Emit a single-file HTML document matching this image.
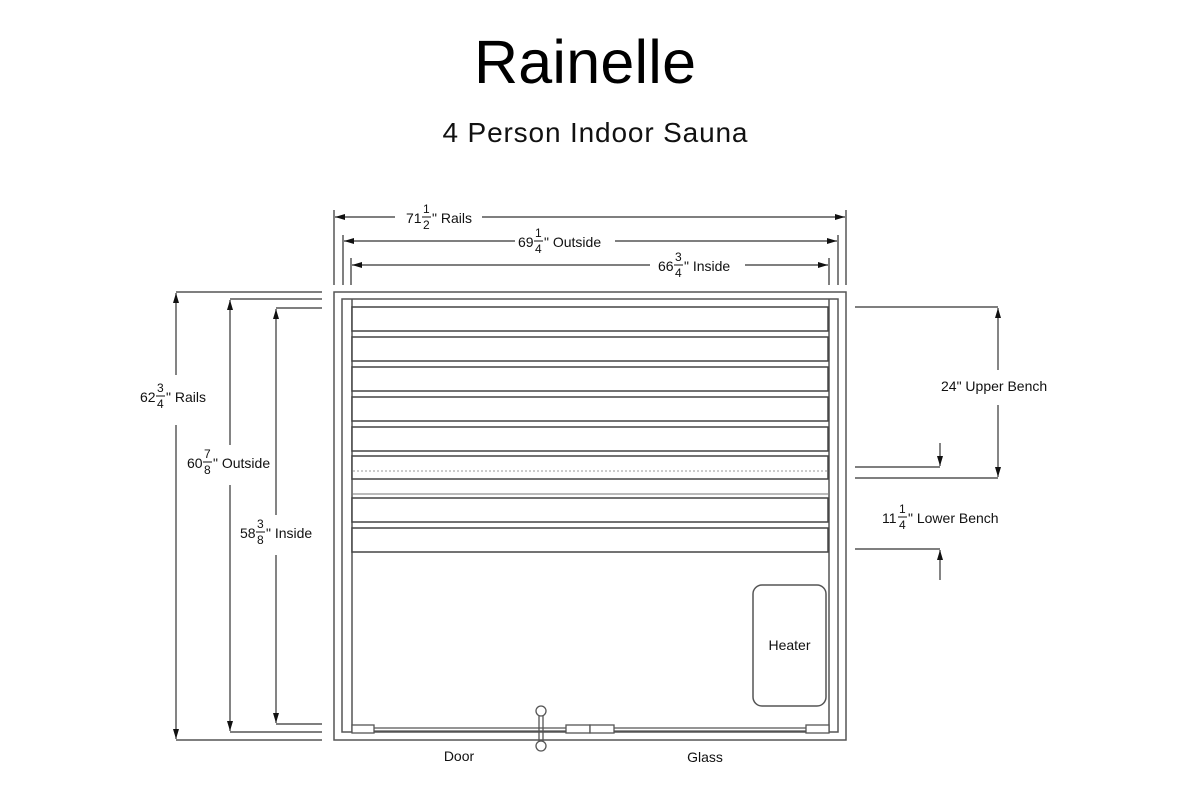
<!DOCTYPE html>
<html><head><meta charset="utf-8"><style>html,body{margin:0;padding:0;background:#fff}svg{display:block}</style></head>
<body>
<svg width="1200" height="800" viewBox="0 0 1200 800" xmlns="http://www.w3.org/2000/svg" font-family="Liberation Sans, Arial, sans-serif">
<defs>
<marker id="a" viewBox="0 0 10 6" refX="10" refY="3" markerWidth="10" markerHeight="6" orient="auto-start-reverse" markerUnits="userSpaceOnUse"><path d="M0,0 L10,3 L0,6z" fill="#111"/></marker>
</defs>
<rect width="1200" height="800" fill="#fff"/>
<text x="585" y="83" font-size="61" text-anchor="middle" textLength="222" fill="#000">Rainelle</text>
<text x="595" y="142" font-size="28" text-anchor="middle" textLength="305" fill="#111">4 Person Indoor Sauna</text>

<g stroke="#555" stroke-width="1.5" fill="none">
<!-- top extension lines -->
<line x1="334" y1="210" x2="334" y2="285"/><line x1="846" y1="210" x2="846" y2="285"/>
<line x1="343" y1="235" x2="343" y2="285"/><line x1="838" y1="235" x2="838" y2="285"/>
<line x1="351" y1="258" x2="351" y2="285"/><line x1="829" y1="258" x2="829" y2="285"/>
<!-- left extension -->
<line x1="176" y1="292" x2="322" y2="292"/><line x1="176" y1="740" x2="322" y2="740"/>
<line x1="230" y1="299" x2="322" y2="299"/><line x1="230" y1="732" x2="322" y2="732"/>
<line x1="276" y1="308" x2="322" y2="308"/><line x1="276" y1="724" x2="322" y2="724"/>
<!-- right extension -->
<line x1="855" y1="307" x2="998" y2="307"/><line x1="855" y1="467" x2="940" y2="467"/>
<line x1="855" y1="478" x2="998" y2="478"/><line x1="855" y1="549" x2="940" y2="549"/>
</g>
<g stroke="#333" stroke-width="1.2" fill="none">
<!-- top dims -->
<line x1="395" y1="217" x2="335" y2="217" marker-end="url(#a)"/>
<line x1="482" y1="217" x2="845" y2="217" marker-end="url(#a)"/>
<line x1="515" y1="241" x2="344" y2="241" marker-end="url(#a)"/>
<line x1="615" y1="241" x2="837" y2="241" marker-end="url(#a)"/>
<line x1="650" y1="265" x2="352" y2="265" marker-end="url(#a)"/>
<line x1="745" y1="265" x2="828" y2="265" marker-end="url(#a)"/>
<!-- left dims -->
<line x1="176" y1="375" x2="176" y2="293" marker-end="url(#a)"/>
<line x1="176" y1="425" x2="176" y2="739" marker-end="url(#a)"/>
<line x1="230" y1="445" x2="230" y2="300" marker-end="url(#a)"/>
<line x1="230" y1="485" x2="230" y2="731" marker-end="url(#a)"/>
<line x1="276" y1="515" x2="276" y2="309" marker-end="url(#a)"/>
<line x1="276" y1="555" x2="276" y2="723" marker-end="url(#a)"/>
<!-- right dims -->
<line x1="998" y1="370" x2="998" y2="308" marker-end="url(#a)"/>
<line x1="998" y1="405" x2="998" y2="477" marker-end="url(#a)"/>
<line x1="940" y1="443" x2="940" y2="466" marker-end="url(#a)"/>
<line x1="940" y1="580" x2="940" y2="550" marker-end="url(#a)"/>
</g>

<!-- sauna body -->
<g stroke="#555" stroke-width="1.5" fill="none">
<rect x="334" y="292" width="512" height="448"/>
<rect x="342" y="299" width="496" height="433"/>
<line x1="352" y1="299" x2="352" y2="732"/>
<line x1="829" y1="299" x2="829" y2="732"/>
</g>
<g stroke="#444" stroke-width="1.5" fill="#fff">
<rect x="352" y="307" width="476" height="24"/>
<rect x="352" y="337" width="476" height="24"/>
<rect x="352" y="367" width="476" height="24"/>
<rect x="352" y="397" width="476" height="24"/>
<rect x="352" y="427" width="476" height="24"/>
<rect x="352" y="456" width="476" height="23"/>
<rect x="352" y="498" width="476" height="24"/>
<rect x="352" y="528" width="476" height="24"/>
</g>
<line x1="353" y1="471" x2="827" y2="471" stroke="#999" stroke-width="1" stroke-dasharray="2,2"/>
<line x1="352" y1="494" x2="828" y2="494" stroke="#777" stroke-width="1"/>
<rect x="753" y="585" width="73" height="121" rx="9" fill="none" stroke="#555" stroke-width="1.5"/>
<text x="789.5" y="650" font-size="14" text-anchor="middle" fill="#111">Heater</text>

<!-- door / glass -->
<g stroke="#555" stroke-width="1.3" fill="#fff">
<line x1="374" y1="728" x2="566" y2="728"/><line x1="374" y1="731" x2="566" y2="731"/>
<line x1="614" y1="728" x2="806" y2="728"/><line x1="614" y1="731" x2="806" y2="731"/>
<rect x="352" y="725" width="22" height="8"/>
<rect x="566" y="725" width="24" height="8"/>
<rect x="590" y="725" width="24" height="8"/>
<rect x="806" y="725" width="23" height="8"/>
<line x1="539" y1="716" x2="539" y2="741"/><line x1="543" y1="716" x2="543" y2="741"/>
<circle cx="541" cy="711" r="5"/>
<circle cx="541" cy="746" r="5"/>
</g>
<text x="459" y="761" font-size="14" text-anchor="middle" fill="#111">Door</text>
<text x="705" y="762" font-size="14" text-anchor="middle" fill="#111">Glass</text>

<!-- labels -->
<g font-size="14" fill="#111">
<text x="406" y="223">71</text><text x="423" y="213" font-size="12">1</text><line x1="422" y1="217" x2="431" y2="217" stroke="#111" stroke-width="1"/><text x="423" y="229" font-size="12">2</text><text x="432" y="223">" Rails</text>
<text x="518" y="247">69</text><text x="535" y="237" font-size="12">1</text><line x1="534" y1="241" x2="543" y2="241" stroke="#111" stroke-width="1"/><text x="535" y="253" font-size="12">4</text><text x="544" y="247">" Outside</text>
<text x="658" y="271">66</text><text x="675" y="261" font-size="12">3</text><line x1="674" y1="265" x2="683" y2="265" stroke="#111" stroke-width="1"/><text x="675" y="277" font-size="12">4</text><text x="684" y="271">" Inside</text>
<text x="140" y="402">62</text><text x="157" y="392" font-size="12">3</text><line x1="156" y1="396" x2="165" y2="396" stroke="#111" stroke-width="1"/><text x="157" y="408" font-size="12">4</text><text x="166" y="402">" Rails</text>
<text x="187" y="468">60</text><text x="204" y="458" font-size="12">7</text><line x1="203" y1="462" x2="212" y2="462" stroke="#111" stroke-width="1"/><text x="204" y="474" font-size="12">8</text><text x="213" y="468">" Outside</text>
<text x="240" y="538">58</text><text x="257" y="528" font-size="12">3</text><line x1="256" y1="532" x2="265" y2="532" stroke="#111" stroke-width="1"/><text x="257" y="544" font-size="12">8</text><text x="266" y="538">" Inside</text>
<text x="941" y="391">24" Upper Bench</text>
<text x="882" y="523">11</text><text x="899" y="513" font-size="12">1</text><line x1="898" y1="517" x2="907" y2="517" stroke="#111" stroke-width="1"/><text x="899" y="529" font-size="12">4</text><text x="908" y="523">" Lower Bench</text>
</g>
</svg>
</body></html>
